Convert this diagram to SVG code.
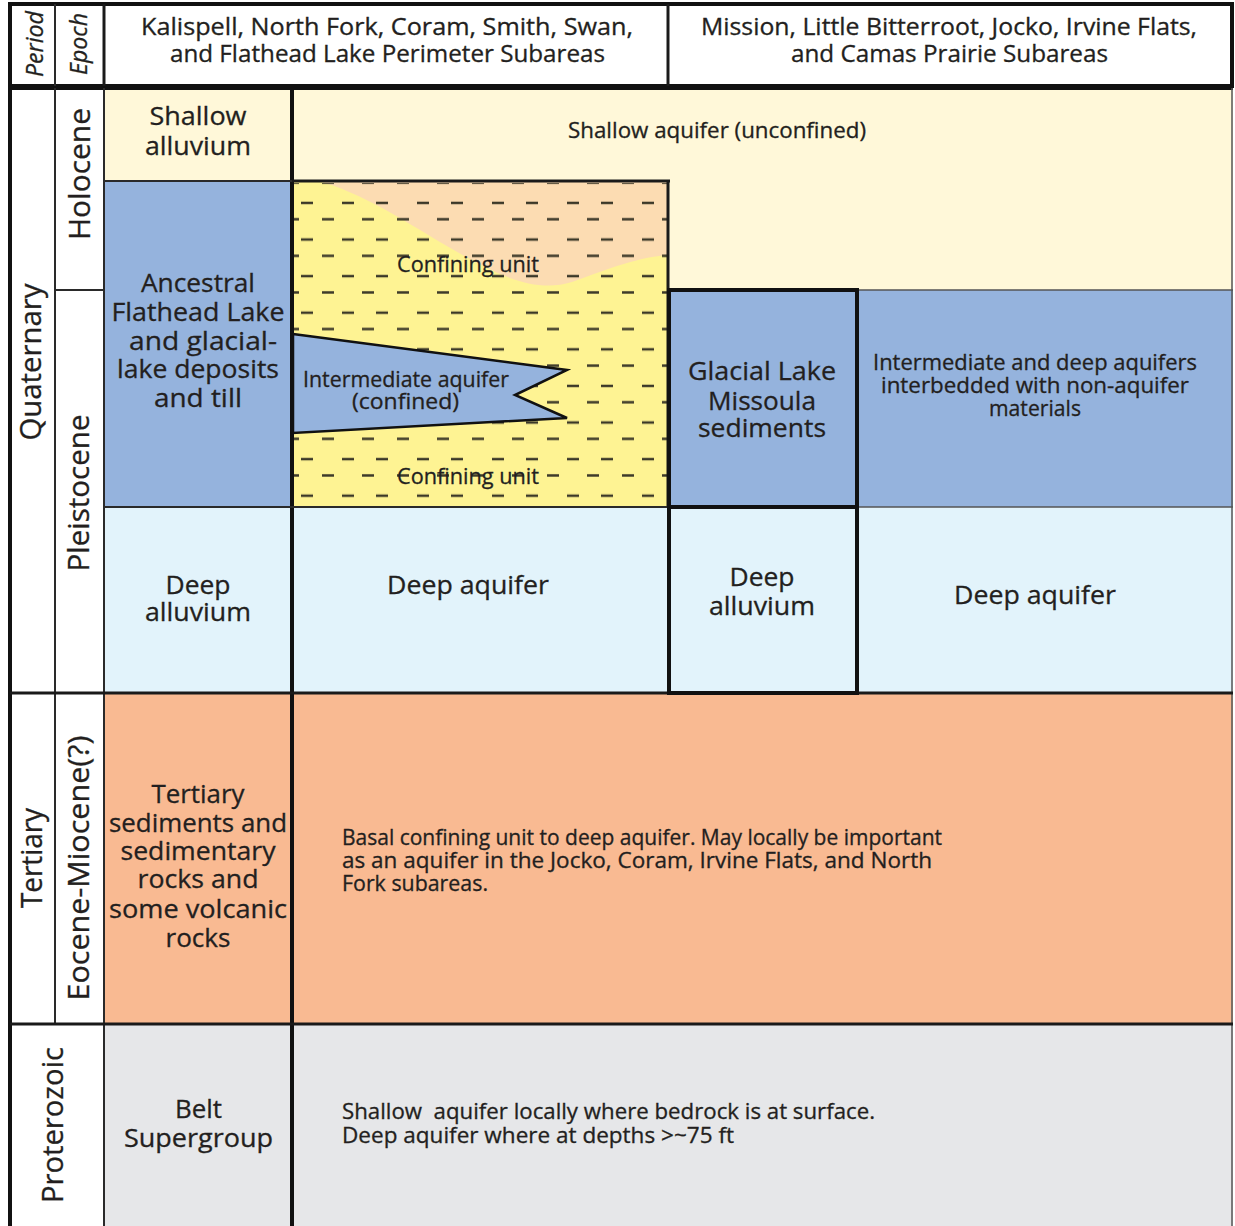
<svg xmlns="http://www.w3.org/2000/svg" width="1235" height="1226" viewBox="0 0 1235 1226">
  <defs>
    <style>
      text { font-family: "Open Sans", "Noto Sans", "Liberation Sans", sans-serif; fill: #231f20; stroke: #231f20; stroke-width: 0.3px; }
      .big { font-size: 25.5px; text-anchor: middle; }
      .sm { font-size: 21px; }
      .mid { text-anchor: middle; }
      .hdr { font-size: 23px; text-anchor: middle; }
      .rot { font-size: 30px; text-anchor: middle; }
      .ital { font-size: 23px; font-style: italic; text-anchor: middle; }
      .thick { stroke: #111; stroke-width: 4; fill: none; }
      .med { stroke: #1a1a1a; stroke-width: 3; fill: none; }
      .thin { stroke: #2a2a2a; stroke-width: 2; fill: none; }
      .faint { stroke: #555; stroke-width: 1.5; fill: none; }
    </style>
    <!-- staggered dash ornament for the confining-unit lithology -->
    <pattern id="dashes" patternUnits="userSpaceOnUse" x="300" y="196" width="75" height="36.6">
      <path d="M1 7h12M42 7h12M22 23.3h12M62 23.3h12" stroke="#3b3828" stroke-width="2.4" fill="none"/>
    </pattern>
  </defs>

  <rect x="0" y="0" width="1235" height="1226" fill="#ffffff"/>

  <!-- header row -->
  <g id="header">
    <rect x="10" y="4" width="1222" height="82" fill="#ffffff"/>
    <text class="ital" transform="translate(43,44) rotate(-90)" textLength="66" lengthAdjust="spacingAndGlyphs">Period</text>
    <text class="ital" transform="translate(87,44) rotate(-90)" textLength="62" lengthAdjust="spacingAndGlyphs">Epoch</text>
    <text class="hdr" x="387" y="35" textLength="492" lengthAdjust="spacingAndGlyphs">Kalispell, North Fork, Coram, Smith, Swan,</text>
    <text class="hdr" x="387.5" y="62" textLength="435" lengthAdjust="spacingAndGlyphs">and Flathead Lake Perimeter Subareas</text>
    <text class="hdr" x="949" y="35" textLength="496" lengthAdjust="spacingAndGlyphs">Mission, Little Bitterroot, Jocko, Irvine Flats,</text>
    <text class="hdr" x="949.5" y="62" textLength="317" lengthAdjust="spacingAndGlyphs">and Camas Prairie Subareas</text>
  </g>

  <!-- period and epoch columns -->
  <g id="periods">
    <rect x="10" y="88" width="94" height="1138" fill="#ffffff"/>
    <text class="rot" transform="translate(41,362) rotate(-90)" textLength="157" lengthAdjust="spacingAndGlyphs">Quaternary</text>
    <text class="rot" transform="translate(42,858) rotate(-90)" textLength="100" lengthAdjust="spacingAndGlyphs">Tertiary</text>
    <text class="rot" transform="translate(63,1125) rotate(-90)" textLength="156" lengthAdjust="spacingAndGlyphs">Proterozoic</text>
  </g>
  <g id="epochs">
    <text class="rot" transform="translate(90,174) rotate(-90)" textLength="132" lengthAdjust="spacingAndGlyphs">Holocene</text>
    <text class="rot" transform="translate(89,493) rotate(-90)" textLength="157" lengthAdjust="spacingAndGlyphs">Pleistocene</text>
    <text class="rot" transform="translate(89,868) rotate(-90)" textLength="265" lengthAdjust="spacingAndGlyphs">Eocene-Miocene(?)</text>
  </g>

  <!-- Holocene: shallow alluvium and shallow aquifer -->
  <g id="shallow-alluvium">
    <rect x="104" y="88" width="188" height="93" fill="#fff8d9"/>
    <text class="big" x="198" y="125" textLength="97" lengthAdjust="spacingAndGlyphs">Shallow</text>
    <text class="big" x="198" y="155" textLength="106" lengthAdjust="spacingAndGlyphs">alluvium</text>
  </g>
  <g id="shallow-aquifer">
    <rect x="292" y="88" width="941" height="202" fill="#fff8d9"/>
    <text class="sm mid" x="717" y="138" textLength="298" lengthAdjust="spacingAndGlyphs">Shallow aquifer (unconfined)</text>
  </g>

  <!-- Pleistocene lake deposits -->
  <g id="ancestral-flathead">
    <rect x="104" y="181" width="188" height="326" fill="#95b3dd"/>
    <text class="big" x="198" y="292" textLength="114" lengthAdjust="spacingAndGlyphs">Ancestral</text>
    <text class="big" x="198" y="321" textLength="173" lengthAdjust="spacingAndGlyphs">Flathead Lake</text>
    <text class="big" x="203" y="350" textLength="148" lengthAdjust="spacingAndGlyphs">and glacial-</text>
    <text class="big" x="198" y="378" textLength="162" lengthAdjust="spacingAndGlyphs">lake deposits</text>
    <text class="big" x="198" y="407" textLength="88" lengthAdjust="spacingAndGlyphs">and till</text>
  </g>

  <g id="confining-unit">
    <rect x="292" y="181" width="376" height="326" fill="#fef393"/>
    <path d="M322,182 C375,198 420,232 468,258 C508,280 540,292 572,282 C610,268 640,257 668,255 L668,182 Z" fill="#fcdcb2"/>
    <rect x="294" y="183" width="373" height="322" fill="url(#dashes)"/>
    <text class="sm mid" x="468" y="272" textLength="142" lengthAdjust="spacingAndGlyphs">Confining unit</text>
    <text class="sm mid" x="468" y="484" textLength="142" lengthAdjust="spacingAndGlyphs">Confining unit</text>
  </g>

  <g id="intermediate-aquifer">
    <polygon points="293,334 567,370 515,395 567,418 293,433" fill="#95b3dd" stroke="#111" stroke-width="2.5" stroke-linejoin="miter"/>
    <text class="sm mid" x="406" y="387" textLength="206" lengthAdjust="spacingAndGlyphs">Intermediate aquifer</text>
    <text class="sm mid" x="405.5" y="409" textLength="107" lengthAdjust="spacingAndGlyphs">(confined)</text>
  </g>

  <g id="glacial-lake-missoula">
    <rect x="669" y="290" width="188" height="217" fill="#95b3dd"/>
    <text class="big" x="762" y="380" textLength="148" lengthAdjust="spacingAndGlyphs">Glacial Lake</text>
    <text class="big" x="762" y="410" textLength="108" lengthAdjust="spacingAndGlyphs">Missoula</text>
    <text class="big" x="762" y="437" textLength="128" lengthAdjust="spacingAndGlyphs">sediments</text>
  </g>

  <g id="intermediate-deep">
    <rect x="857" y="290" width="376" height="217" fill="#95b3dd"/>
    <text class="sm mid" x="1035" y="370" textLength="324" lengthAdjust="spacingAndGlyphs">Intermediate and deep aquifers</text>
    <text class="sm mid" x="1035" y="393" textLength="308" lengthAdjust="spacingAndGlyphs">interbedded with non-aquifer</text>
    <text class="sm mid" x="1035" y="416" textLength="92" lengthAdjust="spacingAndGlyphs">materials</text>
  </g>

  <!-- deep units -->
  <g id="deep-row">
    <rect x="104" y="507" width="1129" height="186" fill="#e2f3fb"/>
  </g>
  <g id="deep-alluvium-left">
    <text class="big" x="198" y="594" textLength="65" lengthAdjust="spacingAndGlyphs">Deep</text>
    <text class="big" x="198" y="621" textLength="106" lengthAdjust="spacingAndGlyphs">alluvium</text>
  </g>
  <g id="deep-aquifer-left">
    <text class="big" x="468" y="594" textLength="162" lengthAdjust="spacingAndGlyphs">Deep aquifer</text>
  </g>
  <g id="deep-alluvium-mid">
    <text class="big" x="762" y="586" textLength="65" lengthAdjust="spacingAndGlyphs">Deep</text>
    <text class="big" x="762" y="615" textLength="106" lengthAdjust="spacingAndGlyphs">alluvium</text>
  </g>
  <g id="deep-aquifer-right">
    <text class="big" x="1035" y="604" textLength="162" lengthAdjust="spacingAndGlyphs">Deep aquifer</text>
  </g>

  <!-- Tertiary -->
  <g id="tertiary-sediments">
    <rect x="104" y="693" width="1129" height="331" fill="#f9ba92"/>
    <text class="big" x="198" y="803" textLength="93" lengthAdjust="spacingAndGlyphs">Tertiary</text>
    <text class="big" x="198" y="832" textLength="178" lengthAdjust="spacingAndGlyphs">sediments and</text>
    <text class="big" x="198" y="860" textLength="155" lengthAdjust="spacingAndGlyphs">sedimentary</text>
    <text class="big" x="198" y="888" textLength="121" lengthAdjust="spacingAndGlyphs">rocks and</text>
    <text class="big" x="198" y="918" textLength="178" lengthAdjust="spacingAndGlyphs">some volcanic</text>
    <text class="big" x="198" y="947" textLength="65" lengthAdjust="spacingAndGlyphs">rocks</text>
  </g>
  <g id="basal-confining">
    <text class="sm" x="342" y="845" textLength="600" lengthAdjust="spacingAndGlyphs">Basal confining unit to deep aquifer. May locally be important</text>
    <text class="sm" x="342" y="868" textLength="590" lengthAdjust="spacingAndGlyphs">as an aquifer in the Jocko, Coram, Irvine Flats, and North</text>
    <text class="sm" x="342" y="891" textLength="146" lengthAdjust="spacingAndGlyphs">Fork subareas.</text>
  </g>

  <!-- Proterozoic -->
  <g id="belt-supergroup">
    <rect x="104" y="1024" width="1129" height="202" fill="#e6e7e9"/>
    <text class="big" x="198.5" y="1118" textLength="47" lengthAdjust="spacingAndGlyphs">Belt</text>
    <text class="big" x="198.5" y="1147" textLength="149" lengthAdjust="spacingAndGlyphs">Supergroup</text>
  </g>
  <g id="bedrock-aquifer">
    <text class="sm" x="342" y="1119" textLength="533" lengthAdjust="spacingAndGlyphs" xml:space="preserve">Shallow  aquifer locally where bedrock is at surface.</text>
    <text class="sm" x="342" y="1143" textLength="392" lengthAdjust="spacingAndGlyphs">Deep aquifer where at depths &gt;~75 ft</text>
  </g>

  <!-- table rules -->
  <g id="rules">
    <!-- header frame -->
    <rect class="thick" x="10" y="4" width="1222" height="82"/>
    <line class="thin" x1="55" y1="4" x2="55" y2="86"/>
    <line class="med" x1="104" y1="4" x2="104" y2="86"/>
    <line class="med" x1="668" y1="4" x2="668" y2="86"/>
    <!-- body frame -->
    <line class="thick" x1="10" y1="88" x2="1233" y2="88"/>
    <line class="thick" x1="10" y1="86" x2="10" y2="1226"/>
    <line class="faint" x1="1232" y1="88" x2="1232" y2="1226"/>
    <line class="thin" x1="55" y1="88" x2="55" y2="1024"/>
    <line class="thin" x1="104" y1="88" x2="104" y2="1226"/>
    <line class="thick" x1="292" y1="88" x2="292" y2="1226"/>
    <!-- row divisions -->
    <line class="thin" x1="55" y1="290" x2="104" y2="290"/>
    <line class="thin" x1="104" y1="181" x2="292" y2="181"/>
    <line class="med" x1="292" y1="181" x2="670" y2="181"/>
    <line class="med" x1="668" y1="181" x2="668" y2="507"/>
    <line class="faint" x1="857" y1="290" x2="1233" y2="290"/>
    <line class="thin" x1="104" y1="507" x2="669" y2="507"/>
    <line class="faint" x1="857" y1="507" x2="1233" y2="507"/>
    <line class="med" x1="10" y1="693" x2="1233" y2="693"/>
    <line class="med" x1="10" y1="1024" x2="1233" y2="1024"/>
    <!-- Glacial Lake Missoula and deep alluvium boxes -->
    <rect class="thick" x="669" y="290" width="188" height="217"/>
    <rect class="thick" x="669" y="507" width="188" height="186"/>
  </g>
</svg>
